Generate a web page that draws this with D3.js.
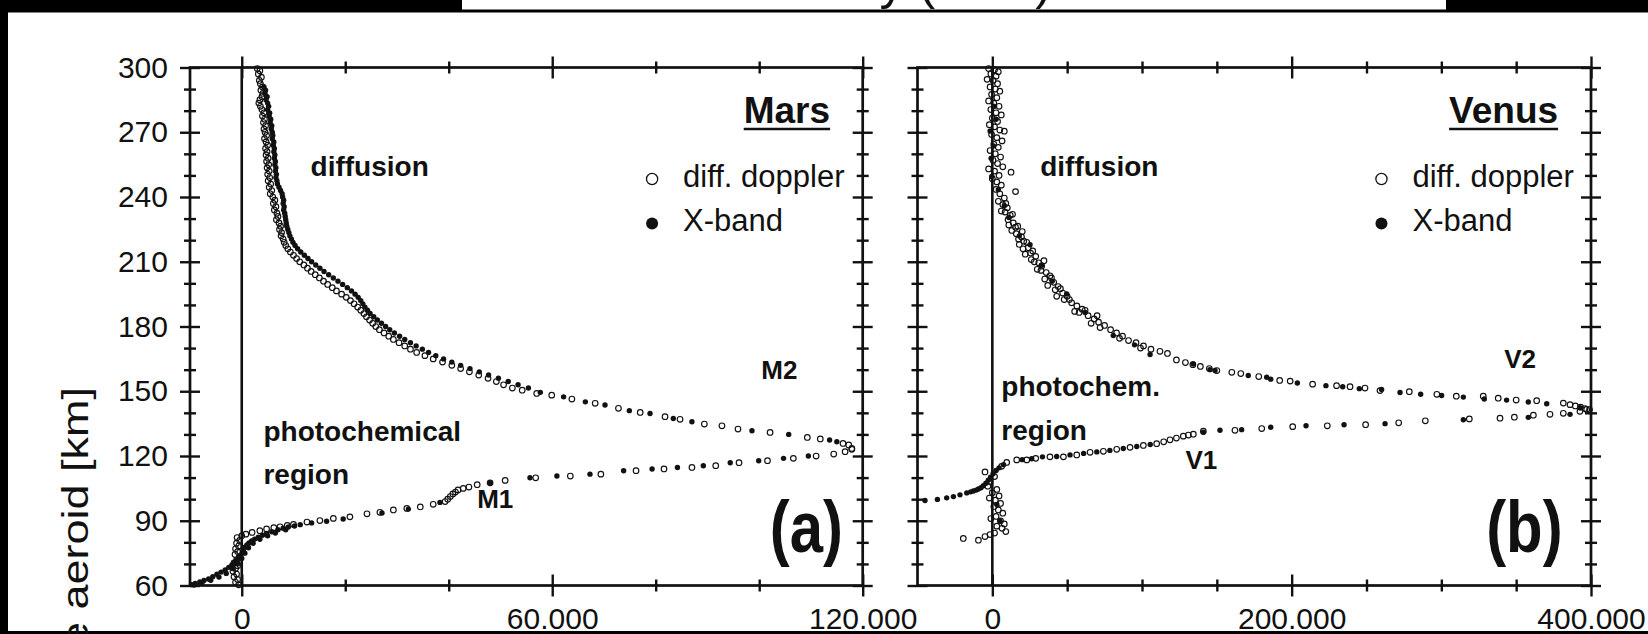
<!DOCTYPE html>
<html>
<head>
<meta charset="utf-8">
<script src="https://cdnjs.cloudflare.com/ajax/libs/d3/7.8.5/d3.min.js"></script>
<style>
  html, body { margin: 0; padding: 0; background: #fff; }
  svg { display: block; }
  text { font-family: "Liberation Sans", Arial, Helvetica, sans-serif; fill: #111; }
</style>
</head>
<body>
<svg id="fig" width="1648" height="634"></svg>
<script>
// ---------- altitude axis (km) ----------
const altMajor = [60, 90, 120, 150, 180, 210, 240, 270, 300];
const altMinor = [70, 80, 100, 110, 130, 140, 160, 170, 190, 200, 220, 230, 250, 260, 280, 290];

// ---------- electron density axes ----------
const marsMajor = [0, 60000, 120000];
const marsMinor = [20000, 40000, 80000, 100000];
const venusMajor = [0, 200000, 400000];
const venusMinor = [50000, 100000, 150000, 250000, 300000, 350000];

// ---------- Mars profiles: [density, altitude km] ----------
const marsDopplerTop = [
  [3000,299.5],[3500,298.5],[3200,297],[3800,295.5],[3400,294],[3600,292.5],[4000,291],[3700,289.5],
  [4100,288],[3900,286.5],[3500,285],[3300,283.5],[3600,282],[3900,280.5],[4300,279],[4000,277.5],
  [4400,276],[4200,274.5],[4600,273],[4300,271.5],[4500,270],[4800,268.5],[4400,267],[4700,265.5],
  [5000,264],[4600,262.5],[4900,261],[4700,259.5],[5100,258],[4800,256.5],[5200,255],[4900,253.5],
  [5300,252],[5000,250.5],[5400,249],[5100,247.5],[5600,246],[5300,244.5],[5800,243],[5500,241.5],
  [6000,240],[6400,238.5],[6100,237],[6600,235.5],[6300,234],[6800,232.5],[7000,231],[6700,229.5],
  [7200,228],[7500,226.5],[7300,225],[7700,223.5],[7600,222],[8000,220.5],[8200,219],[8500,217.5],
  [8900,216],[9400,214.5],[10000,213],[10600,211.5],[11200,210],[12000,208.5],[12700,207],[13400,205.5],
  [14200,204],[15000,202.5],[15800,201],[16600,199.5],[17500,198],[18300,196.5],[19300,195],[20200,193.5],
  [21000,192],[21700,190.5],[22400,189],[23000,187.5],[23600,186],[24100,184.5],[24700,183],[25300,181.5],
  [25900,180],[26600,178.5],[27500,177],[28400,175.5],[29300,174],[30400,172.5],[31500,171],[32600,169.5],
  [33800,168],[35400,166.5],[37000,165],[38800,163.5],[40600,162],[42300,160.5],[44000,159],[45800,157.5],
  [47600,156],[49200,154.5],[50600,153],[52300,151.5],[54200,150.5],[57000,149],[59900,148.2],[63800,146.4],
  [68300,144.4],[72800,142.1],[77000,140.2],[81800,138.2],[84700,137.0],[89400,134.8],[92800,134.0],
  [95900,132.5],[102100,130.9],[109300,128.6],[111800,127.9],[116200,125.8],[117300,125.1],[117900,123.5]
];
const marsDopplerBottom = [
  [-600,60.3],[-1200,61.5],[-800,62.8],[-1500,64],[-1000,65.3],[-1700,66.6],[-1200,67.9],[-800,69.2],
  [-1500,70.5],[-1000,71.8],[-500,73.1],[-1300,74.4],[-800,75.7],[-1200,77.0],[-600,78.3],[-1000,79.6],
  [-400,80.9],[-900,82.2],[0,83.0],[800,83.8],[2000,84.6],[3500,85.4],[4800,86.2],[6200,86.8],[7400,87.2],
  [8800,87.8],[10000,88.3],[12600,89.4],[15100,90.1],[17700,91.1],[20900,91.8],[24200,93.2],[26700,93.9],
  [29300,95.0],[31900,95.7],[34500,96.4],[37000,97.6],[39300,98.9],[39800,100.0],[40300,101.2],[40800,102.4],
  [41300,103.3],[41800,104.3],[42800,105.0],[43900,105.6],[45500,106.7],[48000,107.6],[50900,108.7],
  [56800,109.9],[63500,110.7],[69400,111.6],[76200,113.2],[81600,114.0],[87000,114.7],[91600,115.5],
  [96100,116.9],[101600,117.8],[106600,118.9],[111000,120.0],[114400,120.9],[116600,122.0],[117900,123.1]
];
const marsXbandTop = [
  [4300,291],[4600,289.5],[4500,288],[4900,286.5],[4700,285],[5000,283.5],[5200,282],[5000,280.5],
  [5400,279],[5300,277.5],[5600,276],[5500,274.5],[5800,273],[5700,271.5],[5900,270],[6000,268.5],
  [5900,267],[6200,265.5],[6100,264],[6300,262.5],[6200,261],[6400,259.5],[6300,258],[6500,256.5],
  [6400,255],[6600,253.5],[6500,252],[6700,250.5],[6600,249],[6800,247.5],[6900,246],[7200,244.5],
  [7500,243],[7800,241.5],[7900,240],[8100,238.5],[8000,237],[8200,235.5],[8100,234],[8300,232.5],
  [8400,231],[8500,229.5],[8600,228],[8700,226.5],[8900,225],[9100,223.5],[9300,222],[9600,220.5],
  [9900,219],[10300,217.5],[10800,216],[11400,214.5],[12100,213],[12800,211.5],[13500,210],[14300,208.5],
  [15100,207],[15900,205.5],[16800,204],[17700,202.5],[18600,201],[19500,199.5],[20400,198],[21200,196.5],
  [21900,195],[22500,193.5],[23000,192],[23400,190.5],[23800,189],[24300,187.5],[24800,186],[25500,184.5],
  [26200,183],[27000,181.5],[27800,180],[28600,178.5],[29500,177],[30500,175.5],[31500,174],[32600,172.5],
  [33700,171],[34900,169.5],[36100,168],[37500,166.5],[39000,165],[40600,163.5],[42300,162],[44100,160.5],
  [45900,159],[47700,157.5],[49600,156],[51500,154.5],[53400,153],[55400,151.5],[57700,149.5],[62200,147.4],
  [66400,145.1],[70200,143.6],[74900,141.0],[78900,139.7],[83400,137.4],[87000,135.9],[98600,131.7],
  [105700,130.0],[113600,127.4],[115000,126.6]
];
const marsXbandBottom = [
  [-9700,60.4],[-9200,60.2],[-9000,60.9],[-8100,61.6],[-7700,61.3],[-7300,62.3],[-6400,63.0],[-6000,62.4],
  [-5600,64.1],[-4800,65.2],[-4400,63.9],[-4000,66.2],[-3200,67.2],[-3000,65.6],[-2500,68.4],[-1900,69.5],
  [-1700,67.8],[-1400,70.7],[-1000,71.8],[-700,70.2],[-600,72.9],[-200,73.9],[0,72.5],[100,75.2],[300,76.6],
  [600,75.0],[600,77.7],[1000,78.8],[1300,77.5],[1400,79.7],[1900,80.6],[2200,79.6],[2500,81.5],[3200,82.4],
  [3500,81.4],[4000,83.3],[4800,84.1],[5000,83.0],[5800,84.9],[6500,84.3],[7000,85.8],[8000,86.5],[8500,85.8],
  [9000,87.1],[10200,87.6],[11300,88.2],[13500,89.0],[16400,89.8],[19600,90.8],[27100,93.6],[32200,95.4],
  [38300,98.5],[48000,107.6],[55700,109.9],[60900,110.7],[67300,111.6],[73800,113.2],[79300,114.0],
  [84200,114.7],[89200,115.5],[94400,116.9],[99900,117.8],[104700,118.9],[109500,120.0]
];

// ---------- Venus profiles: [density, altitude km] ----------
const venusDopplerTop = [
  [-2500,299.5],[1500,299],[4000,298],[-1000,297],[2500,296],[-3500,294.5],[500,294],[3500,292.5],
  [-1500,291],[2000,290],[5000,289],[-500,287.5],[3000,286],[-2500,284.5],[1000,283.5],[4500,282],
  [-1000,280.5],[2500,279],[6000,278],[0,276.5],[3500,275],[-2000,273.5],[1500,272.5],[5000,271],
  [8000,270.5],[-500,269],[3000,267.5],[6500,266],[1000,264.5],[4000,263],[-1500,261.5],[2000,260],
  [5500,258.5],[500,257],[3500,255.5],[7000,254],[-2500,253],[1500,252],[12500,251.5],[4500,250],
  [0,248.5],[3000,247],[6000,245.5],[2500,243.5],[15500,242.5],[5000,241.5],[8000,239.5],[4000,238],
  [9000,237],[7000,236.5],[10000,235],[6000,233.5],[8500,233],[12000,231.5],[13500,232],[10500,229.5],
  [14000,228],[11000,227],[17000,226.5],[15500,226],[13000,224.5],[20000,224],[16000,223],[19500,221.5],
  [17500,220.5],[21000,219.5],[23000,219],[18000,218],[24000,216.5],[20500,216],[27000,215],[25500,214],
  [22000,213.5],[29000,212.5],[26000,211],[34500,210.5],[28000,210],[31000,209.5],[33000,208],[30000,206.5],
  [32500,206],[36000,205],[38500,203.5],[39500,202.5],[35000,202],[41000,200.5],[37000,199],[44000,198.5],
  [45500,197.5],[42000,197],[47000,195.5],[50000,194],[43000,194],[48000,192.5],[51500,192.5],[53000,191],
  [56500,189.5],[60000,188],[62000,187.5],[55000,187],[58000,186.5],[64000,185],[70000,185],[68000,183.5],
  [71000,182],[66000,181.5],[75000,180.5],[72000,179.5],[79000,178.5],[83000,177],
  [87000,175.5],[85000,174.5],[91000,173.5],[96000,172.5],[101000,171],[99000,170],[106000,169.5],
  [112000,168.5],[117000,167.5],[123000,164.5],[129000,163.3],[134000,162.3],[139000,161.5],[145000,160.5],
  [150000,159.6],[160000,158.8],[166000,158.2],[178000,156.8],[192000,155.0],[199000,154.7],[214000,153.3],
  [230000,152.6],[239000,152.1],[249000,151.5],[259000,150.3],[278600,149.8],[297000,148.6],[310000,147.7],
  [328000,147.7],[338000,146.8],[350000,145.9],[363700,145.6],[381500,144.5],[386000,143.8],[389500,143.2],
  [393000,142.6],[396000,142.0],[399000,141.5]
];
const venusDopplerBottom = [
  [-4900,112.6],[-1500,108.2],[1500,110.5],[-3000,106],[3000,104.5],[0,103],[4500,101.5],[-2000,100.5],
  [2000,99.5],[5500,98],[1000,96.5],[4000,95],[7000,93.5],[2500,92],[-1000,91],[5500,90],[8000,88.5],
  [3000,87.5],[6500,86.5],[9000,85],[1500,84.3],[-1500,83.6],[-4900,82.7],[-9300,81.0],[-19400,81.8],
  [6200,115.2],[9600,117.0],[16300,118.2],[23000,118.2],[29000,118.9],[38500,119.6],[47500,119.6],
  [56400,120.5],[65300,121.7],[74200,122.2],[83100,123.1],[92000,124.0],[100900,124.9],[109800,125.7],
  [114500,126.6],[118700,127.5],[123000,128.3],[127600,129.2],[131000,129.7],[134300,130.1],[141000,131.5],
  [162100,131.9],[180000,132.7],[200700,133.6],[223800,134.0],[249400,134.5],[271500,135.4],[289300,136.3],
  [318700,137.2],[339200,137.5],[348800,138.0],[361500,138.9],[372600,139.3],[381500,139.8],[392600,140.7],
  [397100,141.6]
];
const venusXbandTop = [
  [1500,282],[2500,276],[-1500,270.6],[700,263.6],[-800,258],[-400,249.5],[4000,243.4],[8000,236],
  [11000,230.5],[18000,222],[25200,217.9],[33000,208.5],[40000,201],[49700,195.1],[62000,186.5],
  [80800,175.8],[95000,171.5],[105400,167.0],[134300,162.6],[145400,160.0],[148800,159.6],[171000,157.3],
  [183300,156.5],[186000,155.6],[203800,153.8],[222900,152.6],[234100,152.1],[245200,151.2],[260100,150.8],
  [272400,149.4],[286200,148.6],[300200,148.0],[314700,147.3],[328700,146.4],[343600,145.9],[358100,145.0],
  [370400,144.2],[392600,142.4]
];
const venusXbandBottom = [
  [-45000,99.4],[-36700,99.9],[-30500,100.6],[-26000,101.2],[-21600,102.0],[-17100,102.9],[-14500,103.4],
  [-12700,103.8],[-10800,104.2],[-9300,104.7],[-7600,105.3],[-6000,106.2],[-4300,107.4],[-2700,108.8],
  [-1200,110.2],[500,111.8],[2500,113.3],[4500,114.5],[7500,116.0],
  [3000,97.5],[5000,90],
  [20000,118.3],[26300,118.7],[33500,119.6],[43000,119.8],[51900,120.5],[61000,121.2],[69800,121.9],
  [78500,122.6],[87500,123.5],[96500,124.4],[105500,125.3],
  [141000,131.0],[152100,131.9],[166600,132.2],[186000,133.3],[209600,134.0],[235000,134.5],[262400,135.0],
  [314700,136.8],[358100,137.9],[386000,139.3]
];

// ---------- text ----------
const seriesNames = ["diff. doppler", "X-band"];
const altitudeTitle = "Altitude above aeroid [km]";
const headerText = "Electron density (cm⁻³)";

const svg = d3.select("#fig");
const ink = "#111";
const fmt = d3.formatLocale({decimal: ",", thousands: ".", grouping: [3], currency: ["", ""]}).format(",d");

const y = d3.scaleLinear().domain([60, 300]).range([585.5, 67.5]);

// page edges of the scanned figure
svg.append("rect").attr("x", 0).attr("y", 0).attr("width", 1648).attr("height", 12.5).attr("fill", "#000");
svg.append("rect").attr("x", 462).attr("y", 0).attr("width", 984).attr("height", 9.5).attr("fill", "#fff");
svg.append("clipPath").attr("id", "hdr").append("rect")
  .attr("x", 462).attr("y", 0).attr("width", 984).attr("height", 9.5);
const hdr = svg.append("g").attr("clip-path", "url(#hdr)");
hdr.append("text").attr("x", 1052).attr("y", -1).attr("text-anchor", "end")
  .attr("font-size", 50).text(headerText);
svg.append("rect").attr("x", 0).attr("y", 0).attr("width", 8).attr("height", 634).attr("fill", "#000");
svg.append("rect").attr("x", 0).attr("y", 631).attr("width", 1648).attr("height", 3).attr("fill", "#000");

function panel(cfg) {
  const x = d3.scaleLinear().domain(cfg.domain).range(cfg.range);
  const g = svg.append("g");
  const [x0, x1] = cfg.range;
  const [yb, yt] = y.range();

  // crossing tick marks on every side
  const vTicks = (xPos, vals, len) => g.append("g").attr("transform", `translate(${xPos},0)`)
    .call(d3.axisLeft(y).tickValues(vals).tickSize(len).tickFormat(""))
    .call(s => s.select(".domain").remove())
    .call(s => s.selectAll("line").attr("x1", len).attr("x2", -len).attr("stroke", ink).attr("stroke-width", 2.4));
  const hTicks = (yPos, vals, len) => g.append("g").attr("transform", `translate(0,${yPos})`)
    .call(d3.axisBottom(x).tickValues(vals).tickSize(len).tickFormat(""))
    .call(s => s.select(".domain").remove())
    .call(s => s.selectAll("line").attr("y1", -len).attr("y2", len).attr("stroke", ink).attr("stroke-width", 2.4));
  [x0, x1].forEach(p => { vTicks(p, altMajor, 10); vTicks(p, altMinor, 6); });
  [yt, yb].forEach(p => { hTicks(p, cfg.major, 11); hTicks(p, cfg.minor, 6); });

  // frame and zero line
  g.append("rect").attr("x", x0).attr("y", yt).attr("width", x1 - x0).attr("height", yb - yt)
    .attr("fill", "none").attr("stroke", ink).attr("stroke-width", 2.7);
  g.append("line").attr("x1", x(0)).attr("x2", x(0)).attr("y1", yt).attr("y2", yb)
    .attr("stroke", ink).attr("stroke-width", 2.6);

  // bottom tick labels
  g.append("g").attr("transform", `translate(0,${yb})`)
    .call(d3.axisBottom(x).tickValues(cfg.major).tickSize(0).tickPadding(0).tickFormat(fmt))
    .call(s => s.select(".domain").remove())
    .call(s => s.selectAll("text").attr("y", 43.5).attr("dy", null)
      .attr("font-size", 30).attr("fill", ink)
      .style("font-family", '"Liberation Sans", Arial, sans-serif'));

  // data points: open rings first, filled dots on top
  const pts = g.append("g");
  cfg.doppler.forEach(arr => pts.selectAll(null).data(arr).join("circle")
    .attr("cx", d => x(d[0])).attr("cy", d => y(d[1])).attr("r", 2.8)
    .attr("fill", "none").attr("stroke", ink).attr("stroke-width", 1.15));
  cfg.xband.forEach(arr => pts.selectAll(null).data(arr).join("circle")
    .attr("cx", d => x(d[0])).attr("cy", d => y(d[1])).attr("r", 2.7).attr("fill", ink));

  // planet name (bold, underlined)
  const name = g.append("text").attr("x", x(cfg.nameAt)).attr("y", 123.4)
    .attr("text-anchor", "end").attr("font-size", 37).attr("font-weight", "bold").text(cfg.name);
  const w = name.node().getComputedTextLength();
  g.append("line").attr("x1", x(cfg.nameAt) - w).attr("x2", x(cfg.nameAt))
    .attr("y1", 129).attr("y2", 129).attr("stroke", ink).attr("stroke-width", 2.6);

  // legend
  const lx = x(cfg.legendAt);
  g.append("circle").attr("cx", lx).attr("cy", 179).attr("r", 5.6)
    .attr("fill", "none").attr("stroke", ink).attr("stroke-width", 1.3);
  g.append("circle").attr("cx", lx).attr("cy", 223.5).attr("r", 6).attr("fill", ink);
  g.append("text").attr("x", lx + 31).attr("y", 186.5).attr("font-size", 31).text(seriesNames[0]);
  g.append("text").attr("x", lx + 31).attr("y", 231).attr("font-size", 31).text(seriesNames[1]);

  // region and layer annotations
  cfg.notes.forEach(n => g.append("text").attr("x", x(n[0])).attr("y", y(n[1]))
    .attr("font-size", n[3]).attr("font-weight", "bold").text(n[2]));

  // panel letter
  g.append("text").attr("transform", `translate(${x(cfg.letterAt)},551.5) scale(0.82,1)`)
    .attr("text-anchor", "end").attr("font-size", 73).attr("font-weight", "bold").text(cfg.letter);
}

panel({
  domain: [-10000, 120000], range: [190, 862.7],
  major: marsMajor, minor: marsMinor,
  doppler: [marsDopplerTop, marsDopplerBottom], xband: [marsXbandTop, marsXbandBottom],
  name: "Mars", nameAt: 113700, legendAt: 79300, letterAt: 116200, letter: "(a)",
  notes: [
    [13300, 249.7, "diffusion", 28],
    [4200, 127, "photochemical", 28],
    [4200, 107.2, "region", 28],
    [45500, 96, "M1", 26],
    [100400, 155.8, "M2", 26]
  ]
});

panel({
  domain: [-50000, 400000], range: [917.5, 1591],
  major: venusMajor, minor: venusMinor,
  doppler: [venusDopplerTop, venusDopplerBottom], xband: [venusXbandTop, venusXbandBottom],
  name: "Venus", nameAt: 378000, legendAt: 260000, letterAt: 381000, letter: "(b)",
  notes: [
    [32000, 249.7, "diffusion", 28],
    [6000, 147.8, "photochem.", 28],
    [6000, 127.3, "region", 28],
    [129000, 113.8, "V1", 26],
    [342000, 161, "V2", 26]
  ]
});

// left tick labels (Mars panel only)
svg.append("g").attr("transform", "translate(168,0)")
  .call(d3.axisLeft(y).tickValues(altMajor).tickSize(0).tickPadding(0))
  .call(s => s.select(".domain").remove())
  .call(s => s.selectAll("text").attr("x", 0).attr("dy", null).attr("y", 9.5)
    .attr("font-size", 30).attr("fill", ink)
    .style("font-family", '"Liberation Sans", Arial, sans-serif'));

// altitude title, rotated
svg.append("text").attr("transform", "translate(88,387) rotate(-90) scale(1,0.8)")
  .attr("text-anchor", "end").attr("font-size", 45).text(altitudeTitle);
</script>
</body>
</html>
